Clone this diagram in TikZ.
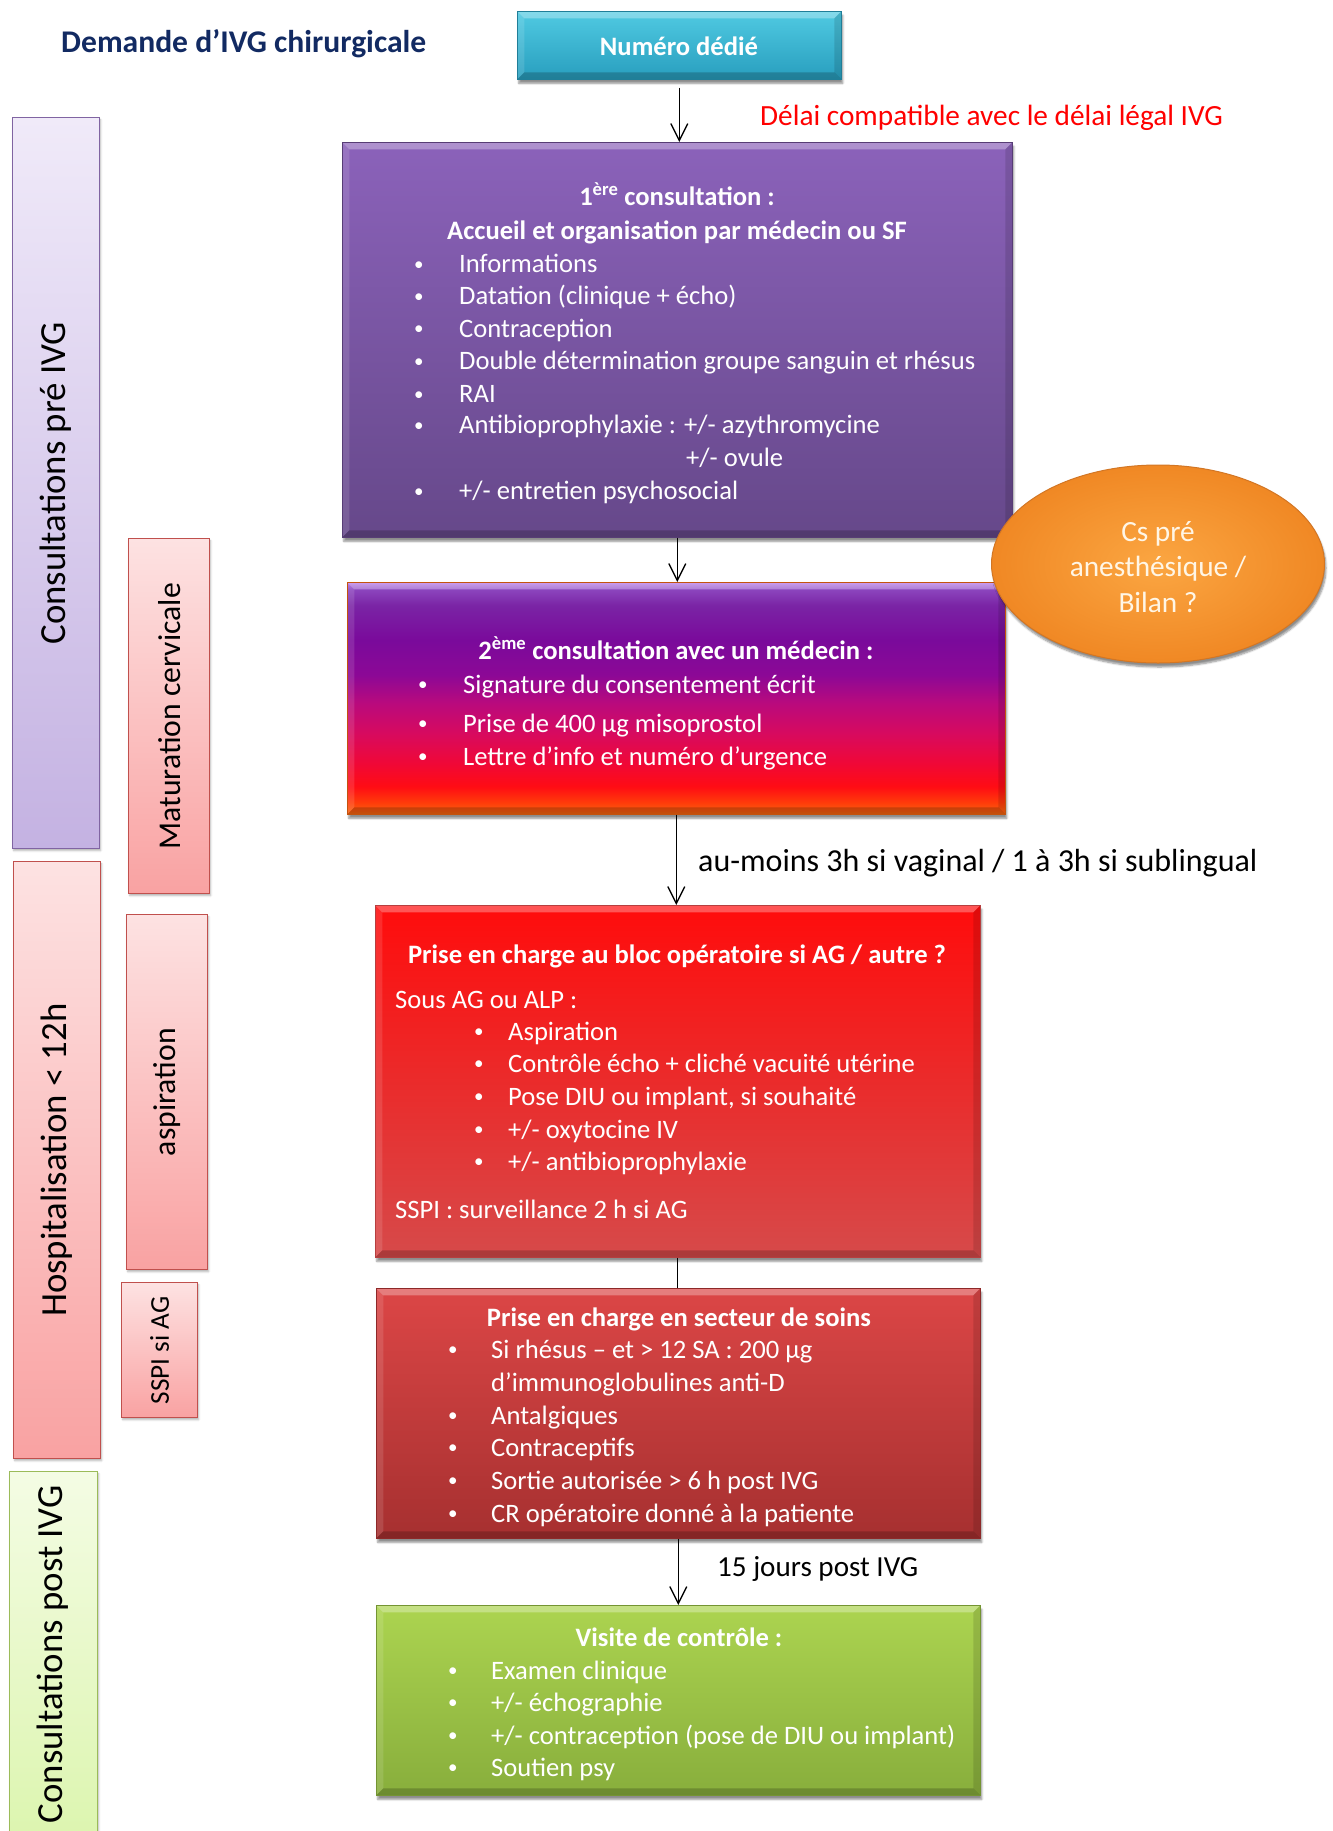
\documentclass[tikz,border=0pt]{standalone}
\usepackage{fontspec}
\setmainfont{Carlito}
\usetikzlibrary{arrows.meta,shadows,shadows.blur,shapes.geometric}

\definecolor{navyT}{RGB}{18,42,98}
\definecolor{tealTop}{RGB}{80,202,226}
\definecolor{tealBot}{RGB}{40,158,190}
\definecolor{purTop}{RGB}{139,98,186}
\definecolor{purBot}{RGB}{102,72,138}
\definecolor{redTop}{RGB}{255,12,12}
\definecolor{redBot}{RGB}{214,74,74}
\definecolor{dredTop}{RGB}{220,70,70}
\definecolor{dredBot}{RGB}{166,48,48}
\definecolor{grTop}{RGB}{172,212,80}
\definecolor{grBot}{RGB}{136,174,60}
\definecolor{orIn}{RGB}{251,166,66}
\definecolor{orOut}{RGB}{240,136,36}
\definecolor{orBd}{RGB}{210,118,36}
\definecolor{lavTop}{RGB}{240,234,249}
\definecolor{lavBot}{RGB}{196,178,226}
\definecolor{lavBd}{RGB}{128,100,162}
\definecolor{pkTop}{RGB}{253,226,226}
\definecolor{pkBot}{RGB}{249,162,162}
\definecolor{pkBd}{RGB}{192,80,77}
\definecolor{lgTop}{RGB}{244,252,228}
\definecolor{lgBot}{RGB}{216,244,166}
\definecolor{lgBd}{RGB}{155,187,89}
\definecolor{ellTxt}{RGB}{255,246,230}
\definecolor{sA}{RGB}{245,104,16}
\definecolor{sB}{RGB}{255,60,10}
\definecolor{sC}{RGB}{255,12,20}
\definecolor{sD}{RGB}{240,8,55}
\definecolor{sE}{RGB}{215,10,95}
\definecolor{sF}{RGB}{185,10,125}
\definecolor{sG}{RGB}{140,8,150}
\definecolor{sH}{RGB}{122,10,155}
\definecolor{sI}{RGB}{122,36,165}
\definecolor{sJ}{RGB}{140,70,190}
\definecolor{sK}{RGB}{180,115,232}

% visible part of a 100bp shading is 25bp..75bp
\pgfdeclareverticalshading{constwo}{100bp}{color(0bp)=(sA); color(25bp)=(sA); color(27.5bp)=(sB); color(31bp)=(sC); color(36bp)=(sD); color(42.5bp)=(sE); color(49bp)=(sF); color(55bp)=(sG); color(62.5bp)=(sH); color(70bp)=(sI); color(73.5bp)=(sJ); color(75bp)=(sK); color(100bp)=(sK)}

\newcommand\fsB{\fontsize{26.6pt}{32.5pt}\selectfont}
\newcommand\fsT{\fontsize{31.6pt}{38pt}\selectfont}
\newcommand\fsR{\fontsize{29.3pt}{35.6pt}\selectfont}
\newcommand\fsA{\fontsize{32pt}{39pt}\selectfont}
\newcommand\fsJ{\fontsize{29.1pt}{35pt}\selectfont}
\newcommand\fsV{\fontsize{36.8pt}{44pt}\selectfont}
\newcommand\fsM{\fontsize{31.7pt}{38pt}\selectfont}
\newcommand\fsS{\fontsize{27.2pt}{33pt}\selectfont}
\newcommand\bl[1][45pt]{\makebox[#1][l]{\raisebox{2.2pt}{\fontsize{19pt}{19pt}\selectfont •}}}

\tikzset{
  shad/.style={blur shadow={shadow xshift=1.5pt, shadow yshift=-4pt, shadow blur steps=6, shadow opacity=45}},
  bevel/.style={path picture={
    \fill[white,opacity=.30] (path picture bounding box.north west) -- (path picture bounding box.north east) -- ([xshift=-7pt,yshift=-7pt]path picture bounding box.north east) -- ([xshift=7pt,yshift=-7pt]path picture bounding box.north west) -- cycle;
    \fill[white,opacity=.12] (path picture bounding box.north west) -- ([xshift=7pt,yshift=-7pt]path picture bounding box.north west) -- ([xshift=7pt,yshift=7pt]path picture bounding box.south west) -- (path picture bounding box.south west) -- cycle;
    \fill[black,opacity=.12] (path picture bounding box.north east) -- ([xshift=-7pt,yshift=-7pt]path picture bounding box.north east) -- ([xshift=-7pt,yshift=7pt]path picture bounding box.south east) -- (path picture bounding box.south east) -- cycle;
    \fill[black,opacity=.20] (path picture bounding box.south west) -- (path picture bounding box.south east) -- ([xshift=-7pt,yshift=7pt]path picture bounding box.south east) -- ([xshift=7pt,yshift=7pt]path picture bounding box.south west) -- cycle;
  }},
  flow/.style={anchor=north west, inner sep=0pt, line width=0.6pt, shad, bevel},
  side/.style={anchor=north west, inner sep=0pt, line width=1.3pt, blur shadow={shadow xshift=1pt, shadow yshift=-2pt, shadow blur steps=4, shadow opacity=30}},
  sideL/.style={side, draw=lavBd, top color=lavTop, bottom color=lavBot},
  sideP/.style={side, draw=pkBd, top color=pkTop, bottom color=pkBot},
  sideG/.style={side, draw=lgBd, top color=lgTop, bottom color=lgBot},
  txt/.style={inner sep=0pt, anchor=base west, font=\fsB, text=white},
  htxt/.style={inner sep=0pt, anchor=base, font=\fsB\bfseries, text=white},
  vtxt/.style={rotate=90, inner sep=0pt, text=black},
  arr/.style={line width=1.3pt, -{Straight Barb[length=17pt,width=17pt,line width=1.3pt]}},
  conn/.style={line width=1.3pt}
}

\begin{document}
\begin{tikzpicture}[x=1pt,y=-1pt]
\useasboundingbox (0,0) rectangle (1333,1831);

% ---- side bars
\node[sideL, minimum width=87pt, minimum height=731pt] (L1) at (12,117) {};
\node[vtxt, font=\fsV] (L1t) at (L1.center) {Consultations pré IVG};
\node[sideP, minimum width=81pt, minimum height=355pt] (L2) at (128,538) {};
\node[vtxt, font=\fsM] (L2t) at (L2.center) {Maturation cervicale};
\node[sideP, minimum width=87pt, minimum height=597pt] (L3) at (13,861) {};
\node[vtxt, font=\fsV] (L3t) at (L3.center) {Hospitalisation < 12h};
\node[sideP, minimum width=81pt, minimum height=355pt] (L4) at (126,914) {};
\node[vtxt, font=\fsM] (L4t) at (L4.center) {aspiration};
\node[sideP, minimum width=76pt, minimum height=135pt] (L5) at (121,1282) {};
\node[vtxt, font=\fsS] (L5t) at (L5.center) {SSPI si AG};
\node[sideG, minimum width=88pt, minimum height=430pt] (L6) at (9,1471) {};
\node[vtxt, font=\fsV, anchor=east] (L6t) at (53,1485) {Consultations post IVG};

% ---- title
\node[inner sep=0pt, anchor=base west, font=\fsT\bfseries, text=navyT] (title) at (61,52.4) {Demande d’IVG chirurgicale};

% ---- boxes
\node[flow, draw=tealBot!80!black, top color=tealTop, bottom color=tealBot, minimum width=324pt, minimum height=68pt] (num) at (517,11) {};
\node[htxt] (numt) at (679,55.7) {Numéro dédié};

\node[flow, draw=purBot!85!black, top color=purTop, bottom color=purBot, minimum width=670pt, minimum height=395pt] (c1) at (342,142) {};
\node[flow, draw=sA!80!black, shading=constwo, minimum width=658pt, minimum height=232pt] (c2) at (347,582) {};
\node[ellipse, draw=orBd, line width=1pt, inner color=orIn, outer color=orOut, minimum width=333pt, minimum height=198pt, shad] (cs) at (1158,564) {};
\node[flow, draw=redBot!85!black, top color=redTop, bottom color=redBot, minimum width=605pt, minimum height=352pt] (c3) at (375,905) {};
\node[flow, draw=dredBot!85!black, top color=dredTop, bottom color=dredBot, minimum width=604pt, minimum height=250pt] (c4) at (376,1288) {};
\node[flow, draw=grBot!85!black, top color=grTop, bottom color=grBot, minimum width=604pt, minimum height=190pt] (c5) at (376,1605) {};

% ---- c1 texts
\node[htxt] (c1h1) at (677,205) {1\textsuperscript{ère} consultation :};
\node[htxt] (c1h2) at (677,239) {Accueil et organisation par médecin ou SF};
\node[txt] (c1a) at (414,272.8) {\bl Informations};
\node[txt] (c1b) at (414,304.3) {\bl Datation (clinique + écho)};
\node[txt] (c1c) at (414,337) {\bl Contraception};
\node[txt] (c1d) at (414,369.7) {\bl Double détermination groupe sanguin et rhésus};
\node[txt] (c1e) at (414,402.4) {\bl RAI};
\node[txt] (c1f) at (414,433.9) {\bl Antibioprophylaxie : +/- azythromycine};
\node[txt] (c1g) at (686,466.6) {+/- ovule};
\node[txt] (c1i) at (414,499.3) {\bl +/- entretien psychosocial};

% ---- ellipse text
\node[inner sep=0pt, font=\fsR, text=ellTxt, align=center] (cst) at (1158,567) {Cs pré\\anesthésique /\\Bilan ?};

% ---- c2 texts
\node[htxt] (c2h) at (676,659) {2\textsuperscript{ème} consultation avec un médecin :};
\node[txt] (c2a) at (418,693) {\bl Signature du consentement écrit};
\node[txt] (c2b) at (418,732) {\bl Prise de 400 µg misoprostol};
\node[txt] (c2c) at (418,765) {\bl Lettre d’info et numéro d’urgence};

% ---- c3 texts
\node[htxt] (c3h) at (677,963) {Prise en charge au bloc opératoire si AG / autre ?};
\node[txt] (c3s) at (395,1008) {Sous AG ou ALP :};
\node[txt] (c3a) at (474,1040) {\bl[34pt]Aspiration};
\node[txt] (c3b) at (474,1072) {\bl[34pt]Contrôle écho + cliché vacuité utérine};
\node[txt] (c3c) at (474,1105) {\bl[34pt]Pose DIU ou implant, si souhaité};
\node[txt] (c3d) at (474,1138) {\bl[34pt]+/- oxytocine IV};
\node[txt] (c3e) at (474,1170) {\bl[34pt]+/- antibioprophylaxie};
\node[txt] (c3f) at (395,1218) {SSPI : surveillance 2 h si AG};

% ---- c4 texts
\node[htxt] (c4h) at (679,1326) {Prise en charge en secteur de soins};
\node[txt] (c4a) at (448,1358) {\bl[43pt]Si rhésus – et > 12 SA : 200 µg};
\node[txt] (c4a2) at (491,1391) {d’immunoglobulines anti-D};
\node[txt] (c4b) at (448,1424) {\bl[43pt]Antalgiques};
\node[txt] (c4c) at (448,1456) {\bl[43pt]Contraceptifs};
\node[txt] (c4d) at (448,1489) {\bl[43pt]Sortie autorisée > 6 h post IVG};
\node[txt] (c4e) at (448,1522) {\bl[43pt]CR opératoire donné à la patiente};

% ---- c5 texts
\node[htxt] (c5h) at (679,1646) {Visite de contrôle :};
\node[txt] (c5a) at (448,1679) {\bl[43pt]Examen clinique};
\node[txt] (c5b) at (448,1711) {\bl[43pt]+/- échographie};
\node[txt] (c5c) at (448,1744) {\bl[43pt]+/- contraception (pose de DIU ou implant)};
\node[txt] (c5d) at (448,1776) {\bl[43pt]Soutien psy};

% ---- labels
\node[inner sep=0pt, anchor=base west, font=\fsR, text=red] (lab1) at (760,125.7) {Délai compatible avec le délai légal IVG};
\node[inner sep=0pt, anchor=base west, font=\fsA, text=black] (lab2) at (698,871) {au-moins 3h si vaginal / 1 à 3h si sublingual};
\node[inner sep=0pt, anchor=base west, font=\fsJ, text=black] (lab3) at (717,1576) {15 jours post IVG};

% ---- connectors
\draw[arr, shorten <=8pt] (num.south) -- (num.south |- c1.north);
\draw[arr] (c1.south) -- (c1.south |- c2.north);
\draw[arr] (c2.south) -- (c2.south |- c3.north);
\draw[conn] (c3.south) -- (c3.south |- c4.north);
\draw[arr] (c4.south) -- (c4.south |- c5.north);
\end{tikzpicture}
\end{document}
